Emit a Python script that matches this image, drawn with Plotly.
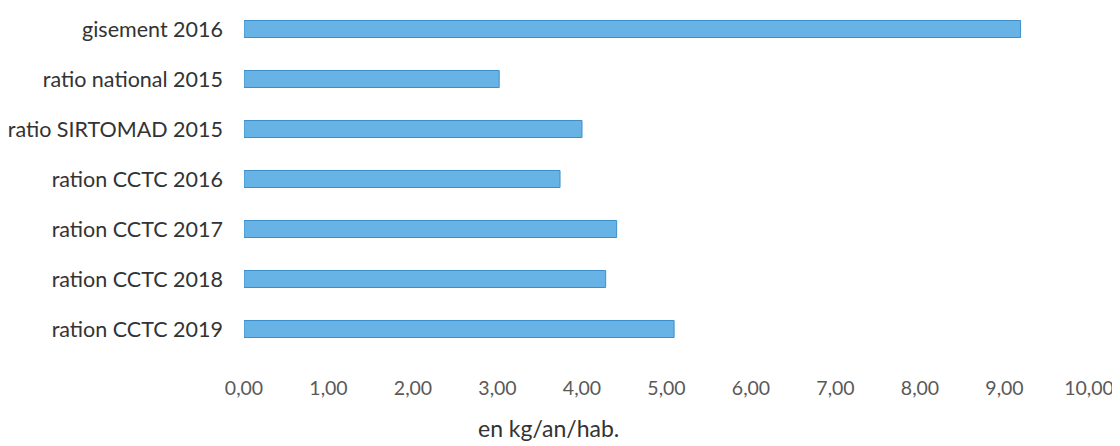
import plotly.graph_objects as go

categories = ["gisement 2016", "ratio national 2015", "ratio SIRTOMAD 2015",
              "ration CCTC 2016", "ration CCTC 2017", "ration CCTC 2018", "ration CCTC 2019"]
values = [9.19, 3.02, 4.00, 3.74, 4.41, 4.28, 5.09]
tick_vals = [0, 1, 2, 3, 4, 5, 6, 7, 8, 9, 10]
tick_text = ["0,00", "1,00", "2,00", "3,00", "4,00", "5,00", "6,00", "7,00", "8,00", "9,00", "10,00"]
x_title = "en kg/an/hab."

fig = go.Figure(go.Bar(
    x=values, y=categories, orientation="h",
    width=0.34,
    marker=dict(color="#67B3E6", line=dict(color="#3D8FCC", width=1)),
))

fig.add_annotation(text=x_title, xref="paper", yref="paper", x=0.36, y=0,
                   xanchor="center", yanchor="middle", yshift=-74, showarrow=False,
                   font=dict(size=23, color="#333"))

fig.update_layout(
    width=1112, height=438,
    margin=dict(l=234, r=31, t=0, b=92),
    paper_bgcolor="white", plot_bgcolor="white",
    font=dict(family="Lato, 'Open Sans', sans-serif", color="#333"),
    showlegend=False,
    xaxis=dict(range=[0, 10], tickvals=tick_vals, ticktext=tick_text,
               showgrid=False, zeroline=False, showline=False,
               ticks="", ticklabelstandoff=20,
               tickfont=dict(size=19.5, color="#595959")),
    yaxis=dict(categoryorder="array", categoryarray=categories,
               range=[6.5, -0.42], showgrid=False, zeroline=False, showline=False,
               ticks="", ticklabelstandoff=20,
               tickfont=dict(size=21.5, color="#333")),
)

fig.write_html("out.html")
